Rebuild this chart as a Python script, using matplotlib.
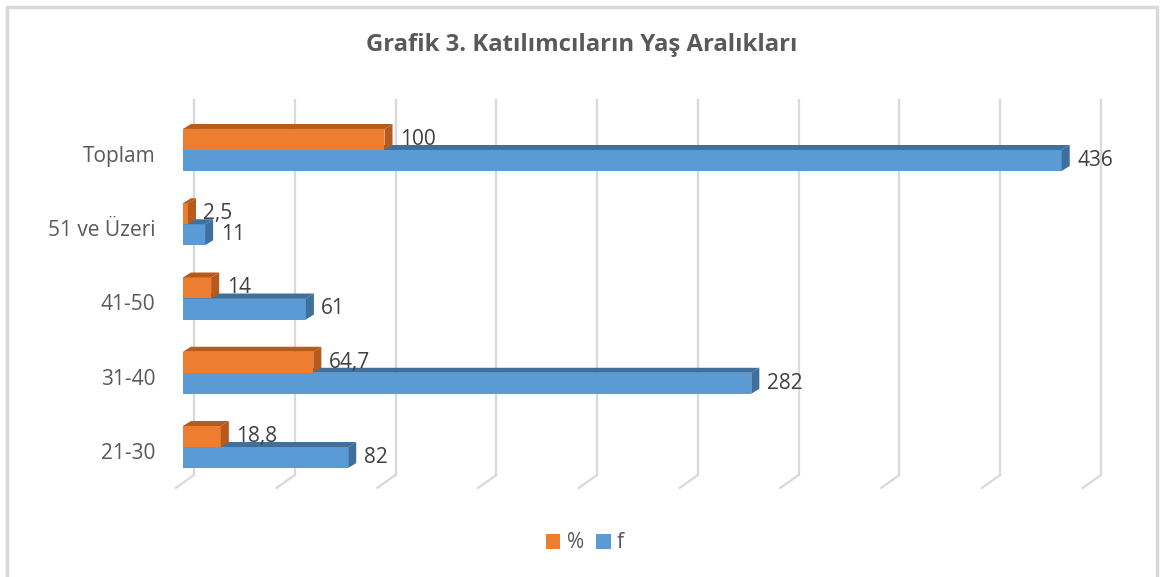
import matplotlib
matplotlib.use("Agg")
import matplotlib.pyplot as plt
import matplotlib.transforms as mtransforms
from matplotlib.patches import Polygon, Rectangle, Patch

plt.rcParams["font.family"] = ["Open Sans", "DejaVu Sans"]

categories = ["21-30", "31-40", "41-50", "51 ve Üzeri", "Toplam"]
pct = [18.8, 64.7, 14, 2.5, 100]
freq = [82, 282, 61, 11, 436]
pct_labels = ["18,8", "64,7", "14", "2,5", "100"]
freq_labels = ["82", "282", "61", "11", "436"]
grid_ticks = [0, 50, 100, 150, 200, 250, 300, 350, 400, 450]

orange, orange_dk = "#ED7D31", "#B85A1B"
blue, blue_dk = "#5B9BD5", "#3F6F9C"
grid_col = "#D9D9D9"

fig = plt.figure(figsize=(11.6, 5.77), dpi=100)
ax = fig.add_axes([0.1403, 0.1352, 0.834, 0.7014])
ax.set_xlim(-10, 470)
ax.set_ylim(-0.7, 4.75)

# slanted 3D gridlines (back wall + floor edge)
for v in grid_ticks:
    xb = v + 5.5
    ax.plot([xb, xb], [-0.377, 4.67], color=grid_col, lw=1.6, zorder=1)
    ax.plot([xb, xb - 9], [-0.377, -0.55], color=grid_col, lw=1.6, zorder=1)

h = 0.283      # bar thickness (category units)
dx, dy = 4.0, 0.067  # depth of the 3D faces


def bar3d(v, y0, face, dark, z):
    y1 = y0 + h
    ax.add_patch(Rectangle((0, y0), v, h, facecolor=face, edgecolor="none", zorder=z))
    top = [(0, y1), (v, y1), (v + dx, y1 + dy), (dx, y1 + dy)]
    ax.add_patch(Polygon(top, closed=True, facecolor=dark, edgecolor="none", zorder=z))
    side = [(v, y0), (v, y1), (v + dx, y1 + dy), (v + dx, y0 + dy)]
    ax.add_patch(Polygon(side, closed=True, facecolor=dark, edgecolor="none", zorder=z))


for i in range(len(categories)):
    bar3d(freq[i], i - h, blue, blue_dk, 3)
    bar3d(pct[i], i, orange, orange_dk, 4)
    ax.text(pct[i] + 7.7, i + h / 2, pct_labels[i], ha="left", va="center",
            fontsize=15, color="#404040", zorder=5)
    ax.text(freq[i] + 7.7, i - h / 2, freq_labels[i], ha="left", va="center",
            fontsize=15, color="#404040", zorder=5)

ax.set_yticks(range(len(categories)))
ax.set_yticklabels(categories, fontsize=15, color="#595959")
ax.tick_params(axis="y", length=0, pad=5.5)
shift = mtransforms.ScaledTranslation(0, -4 / 100, fig.dpi_scale_trans)
for lbl in ax.get_yticklabels():
    lbl.set_transform(lbl.get_transform() + shift)
ax.set_xticks([])
for s in ax.spines.values():
    s.set_visible(False)
ax.patch.set_alpha(0)

fig.text(582 / 1160, 1 - 45 / 577, "Grafik 3. Katılımcıların Yaş Aralıkları",
         ha="center", va="center", fontsize=17.2, fontweight="bold", color="#595959")

handles = [Patch(facecolor=orange, edgecolor="none", label="%"),
           Patch(facecolor=blue, edgecolor="none", label="f")]
fig.legend(handles=handles, loc="center", bbox_to_anchor=(585 / 1160, 1 - 543 / 577),
           ncol=2, frameon=False, fontsize=15, handlelength=0.7, handleheight=0.7,
           handletextpad=0.3, columnspacing=0.6, labelcolor="#595959")

# outer chart border
fig.add_artist(Rectangle((7 / 1160, -0.05), 1150 / 1160, 1.05 - 7 / 577,
                         transform=fig.transFigure, facecolor="none",
                         edgecolor=grid_col, lw=2.5))

fig.savefig("out.png", dpi=100, facecolor="white")
